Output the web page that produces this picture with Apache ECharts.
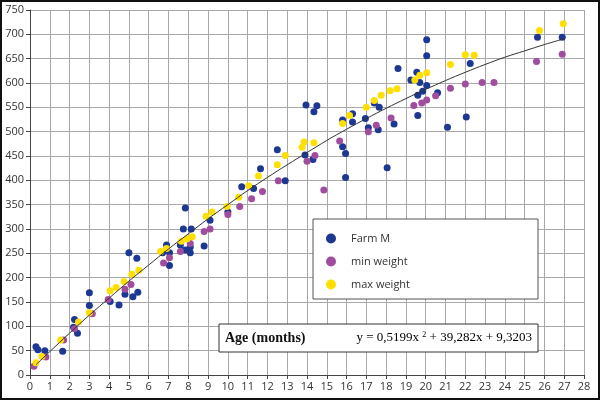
<!DOCTYPE html>
<html><head><meta charset="utf-8">
<script src="https://cdn.jsdelivr.net/npm/echarts@6/dist/echarts.min.js"></script>
<style>html,body{margin:0;padding:0;background:#fff}#c{width:600px;height:400px}</style>
</head><body><div id="c"></div>
<script>
const farmM = [[0.3,58],[0.4,52],[0.75,50],[1.65,49],[2.2,98],[2.25,114],[2.4,86],[3.0,169],[3.0,143],[4.05,151],[4.5,144],[4.8,166],[5.0,251],[5.2,161],[5.4,240],[5.45,170],[6.7,251],[6.9,267],[7.05,251],[7.05,225],[7.6,267],[7.75,300],[7.85,343],[7.85,257],[8.1,251],[8.1,263],[8.15,300],[8.8,265],[9.1,318],[10.0,335],[10.7,387],[11.3,383],[11.65,424],[12.5,463],[12.9,399],[13.95,555],[14.35,541],[14.5,553],[13.9,452],[14.3,443],[15.8,524],[15.8,469],[15.95,455],[15.95,406],[16.3,537],[16.3,520],[16.95,527],[17.1,508],[17.4,559],[17.65,550],[17.6,504],[18.05,426],[18.4,516],[18.6,630],[19.25,606],[19.55,622],[19.6,575],[19.6,533],[19.7,601],[19.85,583],[20.05,689],[20.05,656],[20.05,595],[20.6,580],[21.1,509],[22.05,530],[22.25,640],[25.65,694],[26.9,694]];
const minWeight = [[0.2,18],[0.8,37],[1.7,72],[2.25,95],[3.15,126],[3.95,155],[4.8,176],[5.1,186],[6.75,230],[7.05,241],[7.6,254],[8.1,270],[8.8,295],[9.1,300],[10.0,330],[10.6,346],[11.2,362],[11.75,377],[12.55,399],[14.0,439],[14.4,451],[14.85,380],[15.65,481],[17.1,500],[17.5,513],[18.25,528],[19.4,554],[19.8,559],[20.05,565],[20.5,574],[21.25,589],[22.0,598],[22.85,601],[23.45,601],[25.6,644],[26.9,659]];
const maxWeight = [[0.3,25],[0.6,38],[1.55,72],[2.45,109],[3.0,128],[4.05,173],[4.35,180],[4.75,192],[5.15,207],[5.5,215],[6.6,254],[6.9,260],[7.65,275],[7.95,280],[8.2,284],[8.9,326],[9.2,335],[9.95,346],[10.55,365],[11.05,389],[11.55,409],[12.5,432],[12.9,451],[13.75,468],[13.85,479],[14.35,477],[15.8,517],[16.15,533],[17.0,550],[17.4,564],[17.75,575],[18.2,584],[18.55,588],[19.45,606],[19.7,616],[20.05,621],[21.25,638],[22.0,658],[22.45,657],[25.75,708],[26.95,722]];
// trend curve
const trend = [[0.3,21],[1,48],[2,86],[3,123],[4,158],[5,193],[6,226],[7,259],[8,290],[9,321],[10,350],[11,379],[12,406],[13,432],[14,457],[15,482],[16,505],[17,527],[18,548],[19,568],[20,587],[21,605],[22,622],[23,638],[24,653],[25,666],[26,679],[27,691]];
const seriesNames = ['Farm M','min weight','max weight'];
const boxTitle = 'Age (months)';

const chart = echarts.init(document.getElementById('c'), null, {renderer:'canvas'});
const sans = 'Open Sans';
const serif = 'Liberation Serif';
chart.setOption({
  animation:false,
  backgroundColor:'#fff',
  grid:{left:30,right:16,top:10,bottom:25,containLabel:false},
  xAxis:{type:'value',min:0,max:28,interval:1,
    axisLine:{show:true,onZero:false,lineStyle:{color:'#444',width:1}},
    axisTick:{show:true,length:4,lineStyle:{color:'#444'}},
    axisLabel:{color:'#333',fontFamily:sans,fontSize:11,margin:6},
    splitLine:{show:true,lineStyle:{color:'#a8a8a8',width:1}}},
  yAxis:{type:'value',min:0,max:750,interval:50,
    axisLine:{show:true,lineStyle:{color:'#444',width:1}},
    axisTick:{show:true,length:4,lineStyle:{color:'#444'}},
    axisLabel:{color:'#333',fontFamily:sans,fontSize:11,margin:6},
    splitLine:{show:true,lineStyle:{color:'#a8a8a8',width:1}}},
  legend:{data:seriesNames,orient:'vertical',left:321,top:228,itemWidth:10,itemHeight:10,itemGap:12,
    icon:'circle',textStyle:{fontFamily:sans,fontSize:11,color:'#333',padding:[0,0,0,10]},z:10},
  graphic:[
    {type:'rect',z:5,shape:{x:313,y:219,width:225,height:80},style:{fill:'#fff',stroke:'#555',lineWidth:1}},
    {type:'rect',z:5,shape:{x:219,y:324,width:319,height:28},style:{fill:'#fff',stroke:'#333',lineWidth:1}},
    {type:'text',z:6,x:225,y:338,style:{text:boxTitle,font:'bold 14px "Liberation Serif"',fill:'#111',verticalAlign:'middle'}},
    {type:'text',z:6,x:532,y:338,style:{text:'{a|y = 0,5199x }{s|2}{a| + 39,282x + 9,3203}',align:'right',verticalAlign:'middle',
      rich:{a:{fontFamily:serif,fontSize:13,color:'#111'},s:{fontFamily:serif,fontSize:8,color:'#111',verticalAlign:'top',padding:[0,0,6,0]}}}},
    {type:'rect',z:20,shape:{x:1,y:1,width:598,height:398},style:{fill:'none',stroke:'#111',lineWidth:2}}
  ],
  series:[
    {name:seriesNames[0],type:'scatter',data:farmM,symbolSize:7,itemStyle:{color:'#1d3892',opacity:1},z:3},
    {name:seriesNames[1],type:'scatter',data:minWeight,symbolSize:7,itemStyle:{color:'#a04d9f',opacity:1},z:3},
    {name:seriesNames[2],type:'scatter',data:maxWeight,symbolSize:7,itemStyle:{color:'#ffdf00',opacity:1},z:3},
    {name:'trend',type:'line',data:trend,smooth:0.4,showSymbol:false,symbol:'none',lineStyle:{color:'#333',width:1},z:4,silent:true}
  ]
});
</script></body></html>
